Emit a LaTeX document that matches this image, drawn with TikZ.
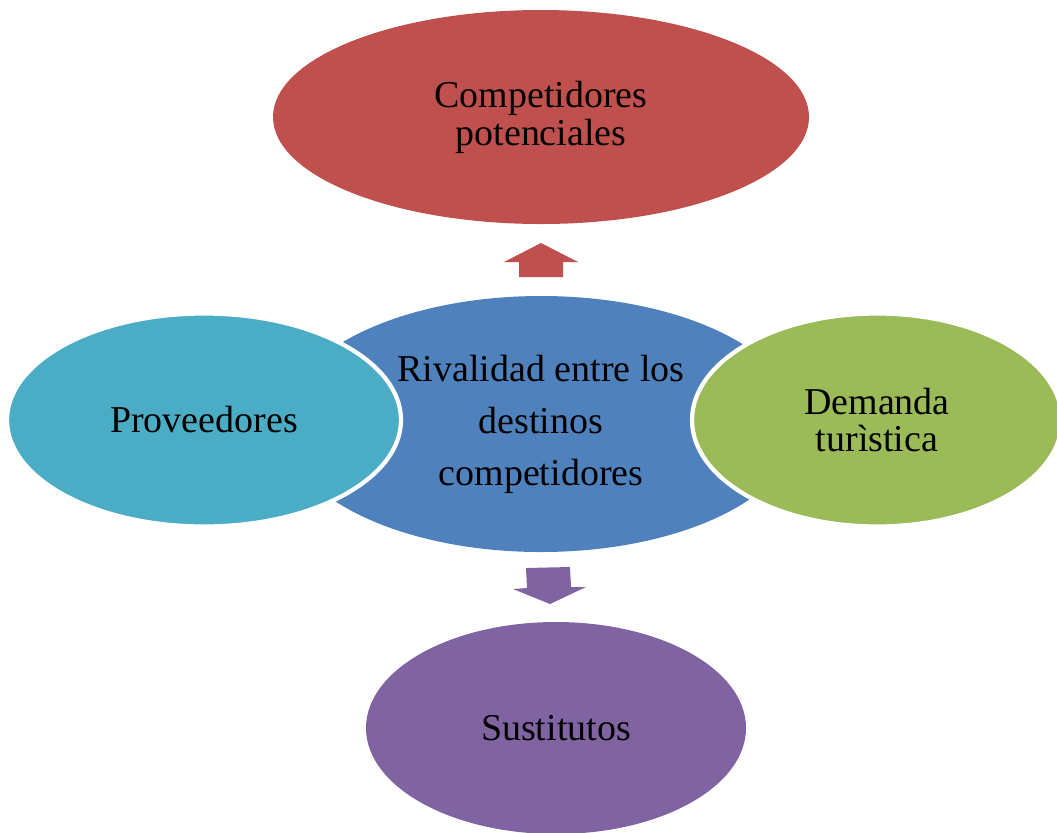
\documentclass[tikz,border=0pt]{standalone}
\usepackage{fontspec}
\setmainfont{Liberation Serif}
\usetikzlibrary{shapes.geometric}
\definecolor{redbox}{HTML}{C0504D}
\definecolor{bluebox}{HTML}{4F81BD}
\definecolor{greenbox}{HTML}{9BBB59}
\definecolor{cyanbox}{HTML}{4BACC6}
\definecolor{purplebox}{HTML}{8064A2}
\begin{document}
\begin{tikzpicture}[
  force/.style={ellipse, inner sep=0pt, align=center,
    font=\fontsize{27}{27}\selectfont},
  side/.style={force, draw=white, line width=3pt}]
  \useasboundingbox (0,0) rectangle (26.425,-20.8);
  \node[force, fill=redbox, minimum width=13.4cm, minimum height=5.35cm]
    (potenciales) at (13.525,-2.925) {Competidores\\potenciales};
  \node[force, fill=bluebox, minimum width=12.9cm, minimum height=6.4cm,
    font=\fontsize{27}{37}\selectfont]
    (rivalidad) at (13.525,-10.6) {Rivalidad entre los\\destinos\\competidores};
  \node[side, fill=cyanbox, minimum width=9.85cm, minimum height=5.325cm]
    (proveedores) at (5.1,-10.5) {Proveedores};
  \node[side, fill=greenbox, minimum width=9.25cm, minimum height=5.325cm]
    (demanda) at (21.925,-10.5) {Demanda\\turìstica};
  \node[force, fill=purplebox, minimum width=9.5cm, minimum height=5.3cm]
    (sustitutos) at (13.9,-18.2) {Sustitutos};
  % block arrows
  \fill[redbox] (13.525,-6.075) -- (14.45,-6.55) -- (14.075,-6.55)
    -- (14.075,-6.925) -- (12.975,-6.925) -- (12.975,-6.55)
    -- (12.6,-6.55) -- cycle;
  \fill[purplebox] (13.15,-14.2) -- (14.25,-14.175) -- (14.275,-14.675)
    -- (14.65,-14.675) -- (13.75,-15.1) -- (12.825,-14.725)
    -- (13.175,-14.7) -- cycle;
\end{tikzpicture}
\end{document}
